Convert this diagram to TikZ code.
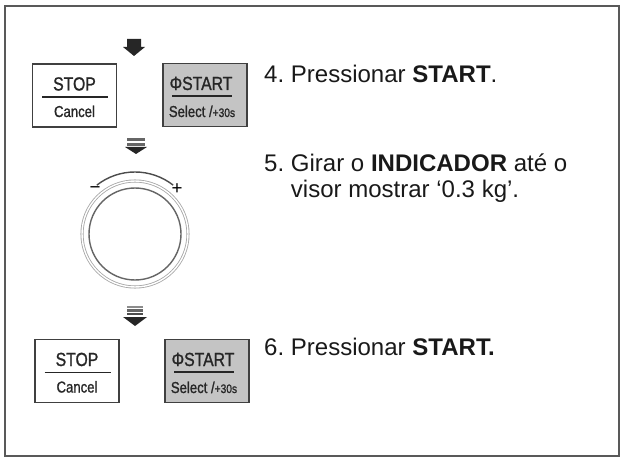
\documentclass[tikz,border=0pt]{standalone}
\usepackage{fontspec}
\setmainfont{Liberation Sans}
\newfontfamily\condfont[FakeStretch=0.83, FakeBold=1.2]{Liberation Sans}
\usetikzlibrary{positioning}
\frenchspacing

\begin{document}
\begin{tikzpicture}[
    x=0.03cm,
    y=-0.03cm,
    key/.style={draw=black!75, line width=1.2pt, minimum width=2.52cm, minimum height=1.88cm, inner sep=0pt},
    startkey/.style={key, fill=black!23},
    keytop/.style={font=\condfont\fontsize{16.2}{16}\selectfont, text=black!85, inner sep=0pt, anchor=base},
    keybot/.style={font=\condfont\fontsize{13.5}{14}\selectfont, text=black!85, inner sep=0pt, anchor=base},
    steptext/.style={font=\fontsize{20.5}{23}\selectfont, text=black!90, inner sep=0pt, anchor=base west, align=left},
    bar/.style={black!60, line width=2.2pt},
]

    \useasboundingbox (0,0) rectangle (621,459);
    \draw[black!65, line width=1.6pt] (5,6) rectangle (619,456);

    % step 4
    \fill[black!85] (127,39) -- (141,39) -- (141,47) -- (145,47) -- (134,56) -- (123,47) -- (127,47) -- cycle;

    \node[key]      (S1) at (74.5,95.5) {};
    \node[startkey] (G1) at (205,95)    {};
    \node[keytop] (S1a) at (74.5,90.5) {STOP};
    \node[keybot] (S1b) at (74.5,117)  {Cancel};
    \node[keytop] (G1a) at (201,90)    {ΦSTART};
    \node[keybot] (G1b) at (202,117)   {Select /{\fontsize{10.5}{11}\selectfont+30s}};
    \draw[black!85, line width=1.6pt] (42,97) -- (108,97);
    \draw[black!85, line width=1.6pt] (172,96) -- (232,96);

    \node[steptext] (T4) at (264,83) {4. Pressionar \textbf{START}.};

    % step 5
    \draw[bar] (127,139.5) -- (145,139.5);
    \draw[bar] (127,144.5) -- (145,144.5);
    \fill[black!85] (125,147) -- (147,147) -- (136,154) -- cycle;

    \node[circle, draw=black!35, double=white, double distance=1.2pt, line width=0.7pt, minimum size=3.18cm] (D) at (135,234) {};
    \draw[black!60, line width=1.2pt] (D.center) circle [radius=1.38cm];
    \draw[black!70, line width=1.2pt] (D.center) ++(128:1.86cm) arc [start angle=128, end angle=52, radius=1.86cm];
    \node[font=\fontsize{16}{16}\selectfont, inner sep=0pt] (M) at (95,190) {−};
    \node[font=\fontsize{16}{16}\selectfont, inner sep=0pt] (P) at (177,189) {+};

    \node[steptext] (T5) at (264,198) {5. Girar o \textbf{INDICADOR} até o\\\hphantom{5. }visor mostrar ‘0.3 kg’.};

    % step 6
    \draw[bar, black!45] (127,307) -- (143,307);
    \draw[bar] (127,310.5) -- (143,310.5);
    \draw[bar, black!70] (127,314) -- (143,314);
    \fill[black!85] (123,317) -- (147,317) -- (135,326) -- cycle;

    \node[key]      (S2) at (77,371) {};
    \node[startkey] (G2) at (207,371) {};
    \node[keytop] (S2a) at (77,366)  {STOP};
    \node[keybot] (S2b) at (77,392.5)  {Cancel};
    \node[keytop] (G2a) at (203,366) {ΦSTART};
    \node[keybot] (G2b) at (204,393)   {Select /{\fontsize{10.5}{11}\selectfont+30s}};
    \draw[black!85, line width=1.6pt] (44.5,372.5) -- (110.5,372.5);
    \draw[black!85, line width=1.6pt] (174,372) -- (234,372);

    \node[steptext] (T6) at (264,355) {6. Pressionar \textbf{START.}};

\end{tikzpicture}
\end{document}
